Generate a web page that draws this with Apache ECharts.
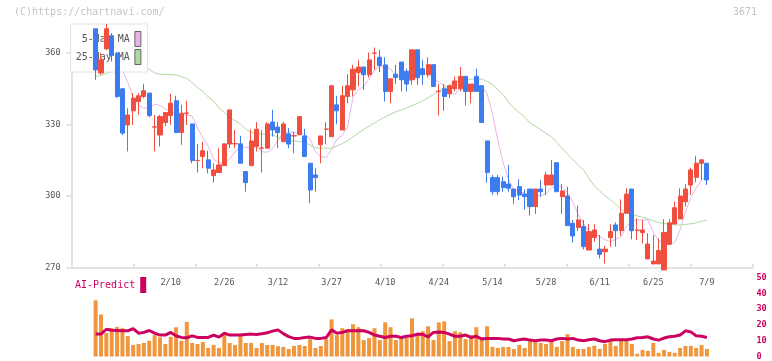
<!DOCTYPE html>
<html>
<head>
<meta charset="utf-8">
<script src="https://cdn.jsdelivr.net/npm/echarts@6/dist/echarts.min.js"></script>
<style>
html, body { margin: 0; padding: 0; background: #fff; }
#chart { width: 772px; height: 361px; }
</style>
</head>
<body>
<div id="chart"></div>
<script>
// x labels (candle index where each date sits)
var dateLabels = ['2/10', '2/26', '3/12', '3/27', '4/10', '4/24', '5/14', '5/28', '6/11', '6/25', '7/9'];
var dateLabelAt = [14, 24, 34, 44, 54, 64, 74, 84, 94, 104, 114];
var priceTicks = [270, 300, 330, 360];

var open = [370.0, 351.5, 361.6, 367.1, 359.8, 344.9, 329.8, 335.7, 339.6, 341.7,
    343.1, 328.9, 325.6, 330.8, 333.7, 339.9, 326.6, 334.7, 330.2, 314.9,
    316.6, 315.2, 308.6, 309.9, 312.8, 321.8, 321.9, 321.9, 310.3, 312.8,
    320.8, 320.1, 320.1, 331.0, 328.9, 322.8, 326.1, 325.2, 325.7, 325.2,
    313.8, 308.9, 321.5, 328.0, 324.9, 338.2, 327.7, 341.7, 344.5, 351.7,
    354.0, 350.8, 359.8, 358.1, 354.9, 343.8, 351.0, 356.1, 352.2, 348.7,
    361.2, 353.3, 350.8, 355.0, 343.8, 344.9, 342.8, 344.9, 344.9, 350.1,
    343.8, 350.1, 346.2, 323.1, 307.8, 307.8, 306.1, 305.1, 303.0, 304.0,
    300.9, 303.0, 295.7, 303.0, 304.7, 304.7, 314.0, 299.8, 300.1, 288.7,
    286.9, 287.3, 277.5, 282.7, 277.9, 276.8, 282.7, 288.0, 285.6, 292.9,
    303.0, 285.8, 284.8, 273.8, 271.7, 271.7, 269.2, 279.9, 288.4, 290.5,
    297.7, 304.7, 307.9, 313.8, 313.8];
var close = [352.8, 357.0, 370.0, 358.8, 341.7, 326.4, 334.0, 341.0, 342.0, 344.1,
    333.7, 329.0, 333.3, 335.0, 338.9, 326.6, 334.7, 334.8, 314.9, 315.0,
    319.0, 311.7, 311.0, 313.1, 321.9, 336.1, 322.0, 313.8, 305.7, 323.1,
    328.0, 320.2, 330.2, 327.7, 326.6, 330.2, 321.8, 325.3, 333.3, 316.6,
    302.6, 307.8, 325.2, 328.1, 346.2, 335.7, 342.0, 346.2, 353.1, 354.0,
    350.8, 357.0, 359.9, 354.7, 343.8, 349.1, 349.6, 348.7, 346.9, 361.2,
    349.6, 350.8, 355.0, 345.9, 343.9, 341.7, 346.2, 348.2, 350.1, 343.8,
    346.9, 343.8, 330.8, 309.9, 301.9, 301.9, 303.6, 303.3, 299.8, 300.5,
    299.8, 295.7, 303.0, 301.9, 308.9, 308.9, 301.9, 302.2, 287.7, 283.4,
    290.1, 278.9, 285.2, 285.9, 275.7, 277.9, 285.2, 285.6, 292.9, 300.9,
    285.6, 285.9, 285.9, 280.0, 272.9, 277.3, 284.9, 288.9, 295.2, 300.1,
    303.0, 311.0, 313.8, 315.2, 306.8];
var low = [348.7, 350.8, 361.2, 356.3, 341.0, 325.6, 318.7, 329.8, 334.0, 341.0,
    333.0, 318.7, 320.8, 329.3, 329.8, 326.6, 321.5, 329.8, 313.8, 309.9,
    311.7, 309.6, 305.7, 309.9, 312.8, 320.1, 320.1, 313.8, 301.9, 312.8,
    318.7, 309.9, 320.1, 324.9, 320.1, 322.8, 320.1, 318.0, 325.7, 316.6,
    297.1, 301.9, 313.8, 321.7, 324.9, 330.1, 327.7, 338.9, 341.7, 345.9,
    344.5, 349.6, 352.8, 351.9, 339.6, 338.9, 346.9, 343.8, 343.8, 346.6,
    346.6, 346.6, 349.6, 345.9, 333.7, 335.7, 341.0, 343.8, 343.8, 337.9,
    338.9, 343.8, 330.8, 305.7, 300.5, 300.5, 301.9, 301.9, 296.8, 298.4,
    294.5, 291.9, 292.6, 299.8, 300.5, 304.7, 301.9, 292.6, 287.7, 280.6,
    285.5, 277.8, 277.5, 281.0, 274.0, 271.9, 278.9, 278.9, 283.5, 292.9,
    282.0, 281.7, 280.3, 273.8, 271.7, 271.7, 269.2, 279.9, 288.4, 290.5,
    295.7, 300.5, 305.8, 306.8, 304.7];
var high = [370.0, 359.8, 372.0, 368.2, 360.2, 345.2, 336.8, 343.1, 343.1, 347.0,
    343.3, 334.0, 334.0, 335.0, 342.9, 342.0, 338.2, 339.9, 330.2, 321.9,
    322.8, 319.0, 313.8, 320.1, 321.9, 336.1, 327.7, 325.2, 310.3, 328.0,
    331.0, 327.7, 331.0, 336.1, 331.0, 331.0, 328.5, 327.0, 333.3, 328.2,
    313.8, 311.7, 325.2, 330.9, 346.2, 342.0, 346.2, 351.0, 354.9, 357.0,
    354.2, 360.1, 362.2, 361.2, 358.1, 349.1, 354.9, 356.1, 353.3, 361.2,
    361.2, 357.0, 358.1, 355.0, 346.9, 346.9, 346.2, 350.1, 354.0, 350.1,
    346.9, 353.3, 346.2, 323.1, 308.9, 308.9, 308.2, 313.1, 303.0, 307.1,
    302.9, 303.0, 303.0, 306.8, 310.3, 315.2, 314.0, 305.1, 304.0, 290.1,
    296.1, 290.1, 288.3, 288.3, 283.8, 279.3, 288.3, 289.1, 298.7, 303.3,
    303.0, 290.8, 290.1, 284.5, 283.8, 282.4, 290.4, 290.4, 297.7, 303.3,
    305.0, 311.9, 316.9, 315.2, 313.8];

var ma5 = [360.0, 361.0, 361.0, 360.0, 357.5, 352.8, 347.5, 341.0, 338.0, 336.8,
    336.8, 338.5, 338.0, 336.5, 335.6, 334.5, 334.0, 334.0, 333.5, 328.5,
    324.5, 321.0, 315.5, 314.0, 313.8, 315.6, 318.5, 320.5, 320.4, 320.1,
    320.6, 318.6, 318.4, 319.8, 323.5, 326.2, 327.0, 326.6, 326.4, 326.0,
    324.0, 318.5, 316.6, 316.2, 319.5, 323.8, 325.4, 329.0, 341.5, 344.5,
    346.0, 349.0, 352.8, 354.2, 354.2, 353.2, 350.3, 350.1, 348.3, 348.5,
    350.3, 351.5, 351.0, 349.3, 347.8, 346.3, 343.8, 342.5, 345.5, 346.6,
    346.6, 346.0, 345.9, 343.0, 334.5, 323.5, 314.0, 307.0, 302.6, 302.0,
    301.3, 300.2, 299.8, 300.3, 301.0, 303.5, 304.3, 304.0, 301.5, 297.5,
    292.5, 288.7, 285.2, 284.3, 283.3, 281.8, 281.0, 282.0, 283.0, 287.5,
    289.5, 290.1, 290.1, 290.1, 285.0, 281.5, 280.3, 279.9, 280.6, 286.0,
    293.5, 299.5, 303.5, 306.5, 308.8];
var ma25 = [350.0, 350.6, 351.3, 352.0, 352.6, 353.1, 353.5, 353.8, 354.0, 354.2,
    353.0, 351.5, 351.0, 351.0, 350.8, 350.7, 350.0, 349.2, 347.5, 345.5,
    343.8, 341.5, 339.8, 337.0, 335.0, 333.0, 331.5, 330.3, 328.0, 326.8,
    326.3, 326.0, 325.8, 325.6, 324.8, 323.6, 323.1, 323.1, 322.8, 322.4,
    321.4, 320.3, 320.1, 320.1, 320.1, 321.0, 322.0, 323.2, 324.8, 326.4,
    327.9, 329.3, 330.6, 332.0, 333.1, 334.3, 335.3, 336.1, 336.9, 337.9,
    338.9, 339.9, 341.1, 342.5, 344.1, 345.5, 346.6, 347.6, 348.3, 348.7,
    349.0, 349.0, 349.0, 348.0, 346.8, 344.5, 342.5, 339.3, 337.0, 335.0,
    333.2, 330.6, 329.2, 327.8, 326.2, 324.9, 322.5, 320.0, 317.5, 315.3,
    313.0, 311.0, 307.6, 304.2, 302.2, 300.2, 298.6, 296.6, 294.6, 293.2,
    292.5, 291.8, 291.2, 290.5, 289.7, 289.0, 288.6, 288.3, 288.0, 288.0,
    288.2, 288.5, 288.9, 289.5, 290.1];

// volume (hundred shares)
var volume = [570, 427, 237, 287, 300, 287, 207, 117, 127, 137,
    160, 217, 194, 127, 200, 297, 160, 350, 137, 127,
    147, 87, 117, 87, 227, 137, 117, 210, 137, 137,
    87, 137, 117, 117, 104, 97, 77, 107, 117, 107,
    177, 87, 107, 177, 377, 217, 287, 277, 327, 297,
    167, 187, 287, 167, 347, 297, 167, 187, 187, 387,
    237, 257, 307, 167, 347, 357, 157, 257, 247, 177,
    217, 297, 197, 307, 97, 87, 97, 97, 77, 117,
    87, 157, 157, 137, 127, 167, 97, 157, 227, 97,
    77, 77, 97, 110, 77, 127, 157, 107, 167, 177,
    127, 27, 67, 57, 137, 37, 67, 47, 37, 87,
    107, 107, 87, 117, 77];
var aiPredict = [14.2, 14.2, 17.3, 16.7, 16.5, 16.3, 16.3, 17.7, 14.8, 15.3,
    16.5, 14.8, 13.6, 13.6, 15.3, 13.1, 12.1, 11.9, 13.1, 12.1,
    12.1, 12.1, 13.6, 12.3, 14.8, 13.6, 13.6, 13.6, 14.0, 14.2,
    13.9, 14.5, 15.1, 16.1, 16.9, 14.5, 12.6, 11.5, 11.5, 12.0,
    12.3, 11.5, 11.5, 12.0, 16.9, 14.8, 15.3, 16.3, 16.3, 16.3,
    16.3, 15.3, 13.6, 12.8, 12.1, 12.8, 12.8, 12.1, 12.8, 13.1,
    14.2, 14.0, 12.5, 15.3, 15.6, 15.3, 14.2, 12.8, 12.8, 13.6,
    12.1, 12.8, 11.1, 11.5, 11.5, 11.5, 11.1, 11.1, 10.0, 10.6,
    11.1, 10.4, 10.0, 10.4, 10.4, 10.0, 11.1, 11.5, 11.1, 11.5,
    10.4, 10.0, 10.6, 11.1, 10.0, 9.4, 10.4, 10.6, 10.6, 10.6,
    11.1, 11.9, 12.1, 12.5, 11.1, 10.4, 11.7, 12.5, 12.8, 13.6,
    16.3, 15.6, 13.1, 12.8, 12.1];

var LEAD = 4;      // empty slots before the first candle
var SLOTS = 127;   // slots on the x axis

var slots = [];
for (var s = 0; s < SLOTS; s++) slots.push('s' + s);

function pad(arr, blank) {
    var out = [];
    for (var i = 0; i < LEAD; i++) out.push(blank);
    return out.concat(arr);
}

var candles = open.map(function (o, i) { return [o, close[i], low[i], high[i]]; });

var FONT = 'DejaVu Sans Mono';
var AXIS = '#e3e3e3';

var myChart = echarts.init(document.getElementById('chart'));
myChart.setOption({
    animation: false,
    grid: [
        { left: 71.5, right: 19.5, top: 24, bottom: 93 },
        { left: 71.5, right: 19.5, top: 277.7, bottom: 3.3 }
    ],
    legend: [
        {
            data: ['5-day MA', '25-day MA'],
            left: 70.7, top: 24,
            orient: 'vertical', align: 'right',
            icon: 'rect', itemWidth: 6, itemHeight: 15, itemGap: 2,
            padding: [7, 6, 7, 5],
            backgroundColor: '#fff', borderColor: '#e2e2e2', borderWidth: 1,
            selectedMode: false, z: 4,
            itemStyle: { borderColor: '#666', borderWidth: 1 },
            formatter: function (name) { return name.length < 9 ? ' ' + name : name; },
            textStyle: { fontFamily: FONT, fontSize: 10, color: '#555' }
        },
        {
            data: ['AI-Predict'],
            left: 74, top: 276,
            align: 'right', icon: 'rect', itemWidth: 6, itemHeight: 16,
            padding: 1, selectedMode: false,
            textStyle: { fontFamily: FONT, fontSize: 10, color: '#cc005f' }
        }
    ],
    graphic: [
        { type: 'text', left: 14, top: 7, style: { text: '(C)https://chartnavi.com/', font: '10px "DejaVu Sans Mono"', fill: '#c4c4c4' } },
        { type: 'text', right: 15, top: 7, style: { text: '3671', font: '10px "DejaVu Sans Mono"', fill: '#c4c4c4' } }
    ],
    xAxis: [
        {
            type: 'category', gridIndex: 0, data: slots, boundaryGap: true,
            axisLine: { show: false }, axisTick: { show: false }, splitLine: { show: false },
            axisLabel: {
                interval: 0, margin: 10, color: '#555', fontFamily: FONT, fontSize: 8.5,
                formatter: function (v, idx) {
                    var k = dateLabelAt.indexOf(idx - LEAD);
                    return k >= 0 ? dateLabels[k] : '';
                }
            }
        },
        {
            // tick marks along the bottom of the price panel
            type: 'value', gridIndex: 0, min: 0, max: 11, interval: 1, position: 'bottom',
            axisLine: { show: true, lineStyle: { color: AXIS, width: 2 } },
            axisTick: { show: true, inside: true, length: 4, lineStyle: { color: AXIS, width: 2 } },
            axisLabel: { show: false }, splitLine: { show: false }
        },
        {
            type: 'category', gridIndex: 1, data: slots, boundaryGap: true, show: false
        }
    ],
    yAxis: [
        {
            type: 'value', gridIndex: 0, min: 270, max: 372, scale: true,
            axisLine: { show: true, lineStyle: { color: AXIS, width: 2 } },
            axisTick: { show: true, length: 5, customValues: priceTicks, lineStyle: { color: AXIS, width: 2 } },
            axisLabel: { margin: 11, color: '#555', fontFamily: FONT, fontSize: 8.5, customValues: priceTicks },
            splitLine: { show: false }
        },
        {
            type: 'value', gridIndex: 1, min: 0, max: 800, show: false
        },
        {
            type: 'value', gridIndex: 1, min: 0, max: 50, interval: 10, position: 'right',
            axisLine: { show: false }, axisTick: { show: false }, splitLine: { show: false },
            axisLabel: { margin: 4, color: '#cc005f', fontFamily: FONT, fontSize: 8.5, fontWeight: 'bold' }
        }
    ],
    series: [
        {
            name: '5-day MA', type: 'line', xAxisIndex: 0, yAxisIndex: 0, z: 2,
            data: pad(ma5, '-'), symbol: 'none',
            itemStyle: { color: '#e9b3ea' },
            lineStyle: { color: '#e9b3ea', width: 1 }
        },
        {
            name: '25-day MA', type: 'line', xAxisIndex: 0, yAxisIndex: 0, z: 2,
            data: pad(ma25, '-'), symbol: 'none',
            itemStyle: { color: '#b0d8a0' },
            lineStyle: { color: '#b0d8a0', width: 1 }
        },
        {
            name: 'price', type: 'candlestick', xAxisIndex: 0, yAxisIndex: 0, z: 6,
            data: pad(candles, ['-', '-', '-', '-']),
            barWidth: 4.6,
            itemStyle: {
                color: '#f04f3f', borderColor: '#f04f3f',
                color0: '#3d7cef', borderColor0: '#3d7cef', borderWidth: 1
            }
        },
        {
            name: 'volume', type: 'bar', xAxisIndex: 2, yAxisIndex: 1,
            data: pad(volume, '-'), barWidth: 4,
            itemStyle: { color: '#f0963c' }
        },
        {
            name: 'AI-Predict', type: 'line', xAxisIndex: 2, yAxisIndex: 2,
            data: pad(aiPredict, '-'), symbol: 'none', z: 3,
            itemStyle: { color: '#cc005f' },
            lineStyle: { color: '#cc005f', width: 3 }
        }
    ]
});
window.addEventListener('resize', function () {
    myChart.resize();
});
</script>
</body>
</html>
